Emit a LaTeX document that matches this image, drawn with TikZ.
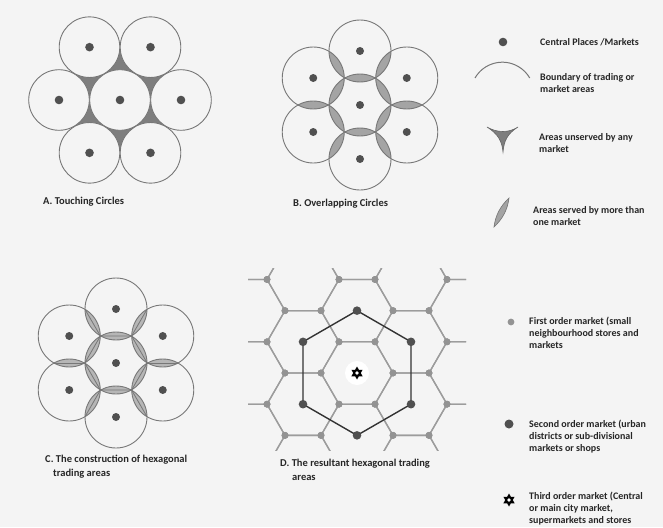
\documentclass[tikz,border=0pt]{standalone}
\usepackage{fontspec}
\setmainfont{Carlito}
\definecolor{paper}{HTML}{F4F4F4}
\definecolor{ringgray}{HTML}{777777}
\definecolor{dotgray}{HTML}{505050}
\definecolor{cuspgray}{HTML}{7E7E7E}
\definecolor{lensgray}{HTML}{A4A4A4}
\definecolor{lenslight}{HTML}{B6B6B6}
\definecolor{gridgray}{HTML}{9C9C9C}
\definecolor{firstgray}{HTML}{939393}
\definecolor{inkgray}{HTML}{262626}
\tikzset{
  ring/.style={draw=ringgray, line width=0.9pt},
  market/.style={fill=dotgray},
  cusp/.style={fill=cuspgray},
  lens/.style={fill=lensgray},
  lensC/.style={fill=lenslight},
  chord/.style={draw=ringgray, line width=0.8pt},
  gridline/.style={draw=gridgray, line width=1.3pt, line join=round},
  firstdot/.style={fill=firstgray},
  bighex/.style={draw=black!80, line width=1.4pt, line join=round},
  captext/.style={font=\fontsize{10.5}{14}\selectfont\bfseries, text=inkgray, inner sep=0pt, align=left, anchor=west},
  legtext/.style={font=\fontsize{10}{12}\selectfont\bfseries, text=inkgray, inner sep=0pt, align=left, anchor=west},
  thirdmark/.pic={
    \fill[black] (90:6.5)--(210:6.5)--(330:6.5)--cycle (270:6.5)--(30:6.5)--(150:6.5)--cycle;
    \fill[white] (0,0) circle[radius=1.8];
  }
}
\begin{document}
\begin{tikzpicture}[x=1pt,y=-1pt]
\useasboundingbox (0,0) rectangle (663,527);
\fill[paper] (0,0) rectangle (663,527);
% A. touching circles
\coordinate (a0) at (120,100);
\foreach \k in {1,...,6} \path (a0) ++(\k*60:61) coordinate (a\k);
\fill[cusp] (a1)--(a2)--(a3)--(a4)--(a5)--(a6)--cycle;
\foreach \k in {0,...,6} \filldraw[ring, fill=paper] (a\k) circle[radius=30.3];
\foreach \k in {0,...,6} \fill[market] (a\k) circle[radius=4.3];
\node[captext] (capA) at (43,202) {A. Touching Circles};
% B. overlapping circles
\coordinate (b0) at (360,105);
\foreach \k in {1,...,6} \path (b0) ++(\k*60-30:54) coordinate (b\k);
\foreach \k in {1,...,6} {
  \pgfmathtruncatemacro\n{mod(\k,6)+1}
  \begin{scope}
    \clip (b\k) circle[radius=31];
    \fill[lens] (b0) circle[radius=31] (b\n) circle[radius=31];
  \end{scope}
}
\foreach \k in {0,...,6} \draw[ring] (b\k) circle[radius=31];
\foreach \k in {0,...,6} \fill[market] (b\k) circle[radius=4];
\node[captext] (capB) at (293,204) {B. Overlapping Circles};
% C. construction of hexagonal areas
\coordinate (c0) at (116,363);
\foreach \k in {1,...,6} \path (c0) ++(\k*60-30:54) coordinate (c\k);
\foreach \k in {1,...,6} {
  \pgfmathtruncatemacro\n{mod(\k,6)+1}
  \begin{scope}
    \clip (c\k) circle[radius=31];
    \fill[lensC] (c0) circle[radius=31] (c\n) circle[radius=31];
  \end{scope}
}
\draw[chord] (c0) +(0:31.2)--+(60:31.2)--+(120:31.2)--+(180:31.2)--+(240:31.2)--+(300:31.2)--cycle;
\foreach \a in {0,60,...,300} \draw[chord] (c0) +(\a:31.2)--+(\a:62);
\foreach \k in {0,...,6} \draw[ring] (c\k) circle[radius=31];
\foreach \k in {0,...,6} \fill[market] (c\k) circle[radius=4];
\node[captext] (capC) at (45,467) {C. The construction of hexagonal\\\hspace*{8pt}trading areas};
% D. resultant hexagonal trading areas
\coordinate (d0) at (357,373);
\fill[white] (d0) circle[radius=12];
\begin{scope}
  \clip (248,268) rectangle (466,450);
  \foreach \i in {-3,...,3} \foreach \j in {-3,...,3} {
    \pgfmathsetmacro\hx{357+54*\i}
    \pgfmathsetmacro\hy{373+62.354*\j+31.177*mod(abs(\i),2)}
    \draw[gridline] (\hx,\hy) +(0:36)--+(60:36)--+(120:36)--+(180:36)--+(240:36)--+(300:36)--cycle;
  }
  \foreach \i in {-3,...,3} \foreach \j in {-3,...,3} {
    \pgfmathsetmacro\hx{357+54*\i}
    \pgfmathsetmacro\hy{373+62.354*\j+31.177*mod(abs(\i),2)}
    \foreach \a in {0,60,...,300} \fill[firstdot] (\hx,\hy) ++(\a:36) circle[radius=3.4];
  }
\end{scope}
\foreach \k in {1,...,6} \path (d0) ++(\k*60-30:62.354) coordinate (d\k);
\draw[bighex] (d1)--(d2)--(d3)--(d4)--(d5)--(d6)--cycle;
\foreach \k in {1,...,6} \fill[market] (d\k) circle[radius=4.3];
\pic at (d0) {thirdmark};
\node[captext] (capD) at (280,470) {D. The resultant hexagonal trading\\\hspace*{12pt}areas};
% legend
\fill[market] (503,42) circle[radius=4.3];
\node[legtext] (leg1) at (540,42) {Central Places /Markets};
\draw[ring, line width=1pt] (475,78) arc[start angle=-150, end angle=-30, radius=31.6];
\node[legtext] (leg2) at (540,83) {Boundary of trading or\\market areas};
\filldraw[cusp, draw=black!60, line width=0.6pt] (487,127) .. controls (497,133) and (509,133) .. (518,127) .. controls (507,134) and (504,141) .. (503,152) .. controls (502,141) and (498,134) .. (487,127) -- cycle;
\node[legtext] (leg3) at (539,143) {Areas unserved by any\\market};
\filldraw[lens, draw=black!55, line width=0.6pt] (494,227) .. controls (502.5,219) and (507.5,210) .. (509,198) .. controls (500.5,206) and (495.5,215) .. (494,227) -- cycle;
\node[legtext] (leg4) at (533,216) {Areas served by more than\\one market};
\fill[firstdot] (511,322) circle[radius=3.4];
\node[legtext] (leg5) at (529,332.5) {First order market (small\\neighbourhood stores and\\markets};
\fill[market] (509,424) circle[radius=4.5];
\node[legtext] (leg6) at (529,437) {Second order market (urban\\districts or sub-divisional\\markets or shops};
\pic at (509,500) {thirdmark};
\node[legtext] (leg7) at (529,509) {Third order market (Central\\or main city market,\\supermarkets and stores};
\end{tikzpicture}
\end{document}
